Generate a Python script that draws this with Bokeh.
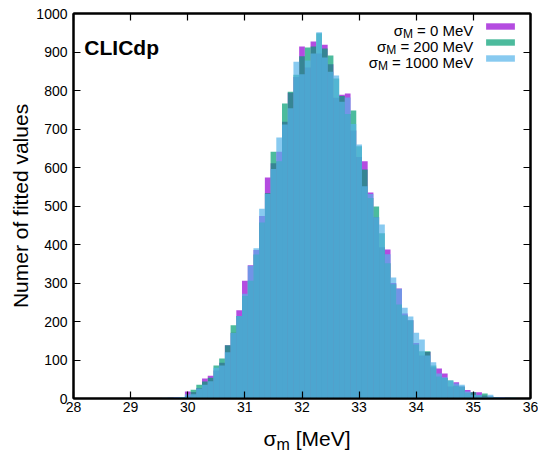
from bokeh.plotting import figure
from bokeh.models import Range1d, LinearAxis, Label, Legend, LegendItem, FixedTicker, Div
from bokeh.layouts import column
from bokeh.embed import file_html
from bokeh.resources import INLINE

# ---------------- data ----------------
bin_width = 0.1
bin_centers = [29.4, 29.5, 29.6, 29.7, 29.8, 29.9,
               30.0, 30.1, 30.2, 30.3, 30.4, 30.5, 30.6, 30.7, 30.8, 30.9,
               31.0, 31.1, 31.2, 31.3, 31.4, 31.5, 31.6, 31.7, 31.8, 31.9,
               32.0, 32.1, 32.2, 32.3, 32.4, 32.5, 32.6, 32.7, 32.8, 32.9,
               33.0, 33.1, 33.2, 33.3, 33.4, 33.5, 33.6, 33.7, 33.8, 33.9,
               34.0, 34.1, 34.2, 34.3, 34.4, 34.5, 34.6, 34.7, 34.8, 34.9,
               35.0, 35.1, 35.2, 35.3, 35.4, 35.5, 35.6, 35.7, 35.8, 35.9]

counts_0 = [0, 1, 1, 2, 3, 3,
            18, 17, 27, 52, 59, 73, 93, 138, 171, 229,
            306, 346, 386, 474, 574, 611, 641, 719, 794, 835,
            914, 860, 927, 896, 919, 868, 781, 789, 792, 696,
            627, 616, 535, 471, 393, 387, 300, 286, 221, 203,
            144, 112, 121, 81, 78, 65, 31, 42, 31, 22,
            16, 16, 8, 5, 3, 3, 2, 1, 1, 0]

counts_200 = [0, 1, 1, 2, 2, 4,
              6, 23, 36, 44, 54, 86, 104, 138, 190, 214,
              266, 306, 374, 457, 533, 641, 616, 766, 797, 841,
              889, 912, 914, 949, 909, 891, 831, 786, 739, 748,
              655, 595, 521, 499, 429, 351, 297, 244, 216, 203,
              140, 123, 123, 86, 57, 53, 47, 33, 31, 15,
              16, 8, 13, 5, 3, 2, 2, 2, 1, 1]

counts_1000 = [0, 1, 2, 2, 3, 4,
               11, 11, 26, 36, 45, 80, 86, 120, 170, 214,
               272, 345, 390, 493, 531, 596, 678, 712, 754, 875,
               842, 878, 896, 951, 886, 849, 839, 771, 782, 713,
               660, 551, 531, 471, 452, 375, 314, 285, 236, 213,
               171, 153, 112, 94, 65, 55, 47, 39, 36, 18,
               10, 10, 3, 10, 3, 3, 2, 2, 1, 1]

sigma_M_values = ["0", "200", "1000"]
series = [counts_0, counts_200, counts_1000]
colors = ["#9400D3", "#009E73", "#56B4E9"]

x_ticks = [28, 29, 30, 31, 32, 33, 34, 35, 36]
y_ticks = [0, 100, 200, 300, 400, 500, 600, 700, 800, 900, 1000]

FONT = "Liberation Sans"

# Arial / Liberation Sans advance widths (em)
ADV = {" ": 0.278, "=": 0.584, "0": 0.556, "1": 0.556, "2": 0.556, "M": 0.833,
       "e": 0.556, "V": 0.667, "[": 0.278, "]": 0.278, "m": 0.833, "σ": 0.57}


def tw(s, size):
    return sum(ADV.get(c, 0.556) for c in s) * size


# ---------------- figure ----------------
p = figure(width=538, height=423, x_range=Range1d(28, 36), y_range=Range1d(0, 1000),
           output_backend="svg", toolbar_location=None,
           min_border_left=73, min_border_right=8, min_border_top=13, min_border_bottom=25)
p.xgrid.visible = False
p.ygrid.visible = False
p.outline_line_color = "black"
p.outline_line_width = 2
p.background_fill_color = "white"
p.border_fill_color = "white"

renderers = []
for vals, col in zip(series, colors):
    left = [c - bin_width / 2 for c in bin_centers]
    right = [c + bin_width / 2 for c in bin_centers]
    r = p.quad(left=left, right=right, bottom=0, top=vals,
               fill_color=col, fill_alpha=0.7, line_color=None)
    renderers.append(r)

# axes
for ax in (p.xaxis[0], p.yaxis[0]):
    ax.major_tick_in = 7
    ax.major_tick_out = 0
    ax.minor_tick_in = 0
    ax.minor_tick_out = 0
    ax.axis_line_width = 2
    ax.major_tick_line_width = 1.2
    ax.major_label_text_font = FONT
    ax.major_label_text_font_size = "14px"
    ax.major_label_text_color = "black"

p.xaxis.ticker = FixedTicker(ticks=x_ticks)
p.yaxis.ticker = FixedTicker(ticks=y_ticks)
p.xaxis.major_label_standoff = 3
p.yaxis.major_label_standoff = 6
p.yaxis.axis_label = "Numer of fitted values"
p.yaxis.axis_label_text_font = FONT
p.yaxis.axis_label_text_font_size = "21px"
p.yaxis.axis_label_text_font_style = "normal"
p.yaxis.axis_label_text_color = "black"
p.yaxis.axis_label_standoff = 1

# mirrored ticks on top and right (no labels)
top_ax = LinearAxis(ticker=FixedTicker(ticks=x_ticks), major_label_text_font_size="0px",
                    major_label_text_color=None,
                    major_label_standoff=0, major_tick_in=7, major_tick_out=0,
                    minor_tick_in=0, minor_tick_out=0, axis_line_width=2,
                    major_tick_line_width=1.2)
right_ax = LinearAxis(ticker=FixedTicker(ticks=y_ticks), major_label_text_font_size="0px",
                      major_label_text_color=None,
                      major_label_standoff=0, major_tick_in=7, major_tick_out=0,
                      minor_tick_in=0, minor_tick_out=0, axis_line_width=2,
                      major_tick_line_width=1.2)
p.add_layout(top_ax, "above")
p.add_layout(right_ax, "right")

# legend swatches (texts are drawn separately, to get the subscript)
legend = Legend(items=[LegendItem(label=" ", renderers=[r]) for r in renderers],
                location=(409, 336), glyph_width=36, glyph_height=8, label_height=8,
                label_width=0, label_standoff=0, spacing=8, padding=0, margin=0,
                border_line_color=None, background_fill_alpha=0,
                label_text_font_size="1px", label_text_color=None)
p.add_layout(legend)


def add_text(x, y, text, size, align="left", xo=0, yo=0, style="normal"):
    p.add_layout(Label(x=x, y=y, text=text, text_font=FONT, text_font_size=f"{size}px",
                       text_align=align, text_baseline="alphabetic", text_color="black",
                       x_offset=xo, y_offset=yo, text_font_style=style))


# legend texts (right aligned, subscript M)
LS = 15
row_y = [957, 915.5, 874]
for sm, yy in zip(sigma_M_values, row_y):
    rest = f"= {sm} MeV"
    w_rest = tw(rest, LS)
    w_sp = tw(" ", LS)
    w_M = tw("M", 12)
    add_text(35.0, yy, rest, LS, "right", 0, 0)
    add_text(35.0, yy, "M", 12, "right", -(w_rest + w_sp), -4)
    add_text(35.0, yy, "σ", LS, "right", -(w_rest + w_sp + w_M), 0)

# CLICdp
add_text(28.19, 912, "CLICdp", 21, "left", style="bold")

# x axis label as HTML text under the plot (σ with subscript m)
xlabel = Div(text='σ<span style="font-size:16px;position:relative;top:4px;">m</span> [MeV]',
             width=538, height=29,
             styles={"font-family": FONT, "font-size": "21px", "color": "black",
                     "text-align": "center", "padding-left": "66px",
                     "box-sizing": "border-box", "line-height": "22px",
                     "overflow": "visible"})

layout = column(p, xlabel, spacing=0)
open("out.html", "w").write(file_html(layout, INLINE))
